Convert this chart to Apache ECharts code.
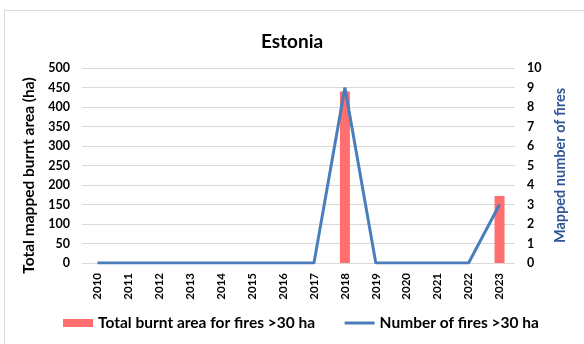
<!DOCTYPE html>
<html><head><meta charset="utf-8">
<script src="https://cdn.jsdelivr.net/npm/echarts@6/dist/echarts.min.js"></script>
<style>html,body{margin:0;padding:0;background:#fff;}#c{width:584px;height:344px;}</style>
</head><body><div id="c"></div>
<script>
const years = ['2010','2011','2012','2013','2014','2015','2016','2017','2018','2019','2020','2021','2022','2023'];
const burntArea = [0,0,0,0,0,0,0,0,440,0,0,0,0,172];
const numFires = [0,0,0,0,0,0,0,0,9,0,0,0,0,3];
const leftTicks = {min:0, max:500, interval:50};
const rightTicks = {min:0, max:10, interval:1};

const font = 'Lato, "Open Sans", sans-serif';
const chart = echarts.init(document.getElementById('c'));
chart.setOption({
  backgroundColor:'#fff',
  textStyle:{fontFamily:font},
  graphic:[{type:'rect',shape:{x:4.5,y:10.5,width:584,height:340},style:{fill:'none',stroke:'#d9d9d9',lineWidth:1}}],
  title:{text:'Estonia',left:'center',top:27,textStyle:{fontFamily:font,fontSize:19,fontWeight:'bold',color:'#000'}},
  grid:{left:82,right:69,top:68,bottom:81},
  legend:{bottom:8,left:58,itemGap:28,itemWidth:30,itemHeight:8,
    textStyle:{fontFamily:font,fontSize:15.5,fontWeight:'bold',color:'#000'},
    data:[{name:'Total burnt area for fires >30 ha',icon:'rect'},
          {name:'Number of fires >30 ha',itemStyle:{color:'rgba(0,0,0,0)',borderWidth:0,borderColor:'rgba(0,0,0,0)'},lineStyle:{color:'#4A7EBB',width:3}}]},
  xAxis:{type:'category',data:years,boundaryGap:true,
    axisLine:{show:false},axisTick:{show:false},
    axisLabel:{rotate:90,fontSize:11.5,fontWeight:'bold',color:'#000',margin:10,fontFamily:font}},
  yAxis:[
    {type:'value',min:leftTicks.min,max:leftTicks.max,interval:leftTicks.interval,
     name:'Total mapped burnt area (ha)',nameLocation:'middle',nameGap:39,nameRotate:90,
     nameTextStyle:{fontSize:15.5,fontWeight:'bold',color:'#000',fontFamily:font,padding:[0,20,0,0]},
     axisLabel:{fontSize:12.5,fontWeight:'bold',color:'#000',margin:12,fontFamily:font},
     splitLine:{lineStyle:{color:'#d9d9d9',width:1}},axisLine:{show:false},axisTick:{show:false}},
    {type:'value',min:rightTicks.min,max:rightTicks.max,interval:rightTicks.interval,
     name:'Mapped number of fires',nameLocation:'middle',nameGap:34,nameRotate:90,
     nameTextStyle:{fontSize:14.5,fontWeight:'bold',color:'#2F5597',fontFamily:font},
     axisLabel:{fontSize:12.5,fontWeight:'bold',color:'#000',margin:12,fontFamily:font},
     splitLine:{show:false},axisLine:{show:false},axisTick:{show:false}}
  ],
  series:[
    {name:'Total burnt area for fires >30 ha',type:'bar',data:burntArea,yAxisIndex:0,barWidth:10,
     itemStyle:{color:'#FF6F6F'}},
    {name:'Number of fires >30 ha',type:'line',data:numFires,yAxisIndex:1,symbol:'none',
     lineStyle:{color:'#4A7EBB',width:3},itemStyle:{color:'#4A7EBB'}}
  ]
});
</script></body></html>
